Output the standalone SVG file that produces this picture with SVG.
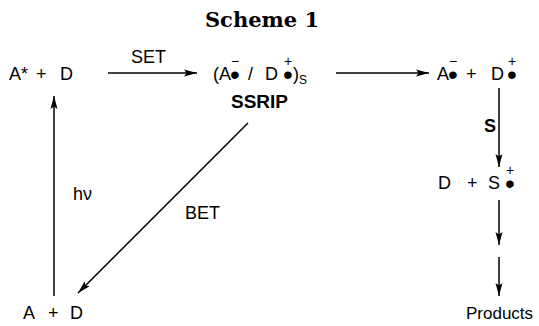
<svg xmlns="http://www.w3.org/2000/svg" width="539" height="326" viewBox="0 0 539 326">
  <style>
    .t { font-family: "Liberation Sans", Arial, sans-serif; font-size: 18px; fill: #000; }
    .b { font-weight: bold; }
    .sm { font-size: 14px; }
    .sub { font-size: 12px; }
    .dot { font-size: 28px; }
    .title { font-family: "DejaVu Serif", "Liberation Serif", serif; font-weight: bold; font-size: 21px; fill: #000; }
    .ln { stroke: #000; stroke-width: 1.5; fill: none; marker-end: url(#ah); }
  </style>
  <defs>
    <marker id="ah" viewBox="0 0 13 8" refX="13" refY="4" markerWidth="13" markerHeight="8" markerUnits="userSpaceOnUse" orient="auto">
      <path d="M0 0.5 L13 4 L0 7.5 L2.5 4 Z" fill="#000"/>
    </marker>
  </defs>

  <text class="title" x="262" y="27" text-anchor="middle">Scheme 1</text>

  <!-- excited acceptor + donor -->
  <g id="n-excited">
    <text class="t"><tspan x="9" y="80">A</tspan><tspan x="21" y="80">*</tspan><tspan x="36" y="80">+</tspan><tspan x="60" y="80">D</tspan></text>
  </g>

  <!-- solvent-separated radical ion pair: radical dot with charge stacked above -->
  <g id="n-ssrip">
    <text class="t"><tspan x="213" y="80">(</tspan><tspan x="219" y="80">A</tspan><tspan class="dot" x="230" y="84">•</tspan><tspan class="sm" x="231" y="66">−</tspan><tspan x="248" y="80">/</tspan><tspan x="265" y="80">D</tspan><tspan class="dot" x="283" y="84">•</tspan><tspan class="sm" x="284" y="66">+</tspan><tspan x="293" y="80">)</tspan><tspan class="sub" x="299" y="84">S</tspan></text>
    <text class="t b" x="231" y="108" style="font-size:19px">SSRIP</text>
  </g>

  <!-- free radical ions -->
  <g id="n-free">
    <text class="t"><tspan x="437" y="80">A</tspan><tspan class="dot" x="448" y="84">•</tspan><tspan class="sm" x="449" y="66">−</tspan><tspan x="466" y="80">+</tspan><tspan x="491" y="80">D</tspan><tspan class="dot" x="507" y="84">•</tspan><tspan class="sm" x="508" y="66">+</tspan></text>
  </g>

  <!-- donor + scavenger radical cation -->
  <g id="n-scav">
    <text class="t"><tspan x="438" y="189">D</tspan><tspan x="467" y="189">+</tspan><tspan x="488" y="189">S</tspan><tspan class="dot" x="505" y="193">•</tspan><tspan class="sm" x="506" y="175">+</tspan></text>
  </g>

  <g id="n-products">
    <text class="t" x="466" y="319" style="font-size:17px">Products</text>
  </g>

  <!-- ground state -->
  <g id="n-ground">
    <text class="t"><tspan x="23" y="319">A</tspan><tspan x="48" y="319">+</tspan><tspan x="70" y="319">D</tspan></text>
  </g>

  <g id="connectors">
    <path class="ln" d="M108 73 H197"/>
    <text class="t" x="131" y="63">SET</text>
    <path class="ln" d="M336 73 H429"/>
    <path class="ln" d="M499 88 V167"/>
    <text class="t b" x="484" y="132">S</text>
    <path class="ln" d="M499 200 V245"/>
    <path class="ln" d="M499 257 V296"/>
    <path class="ln" d="M54 296 V96"/>
    <text class="t" x="73" y="200">hν</text>
    <path class="ln" d="M248 123 L78 293"/>
    <text class="t" x="185" y="219">BET</text>
  </g>
</svg>
